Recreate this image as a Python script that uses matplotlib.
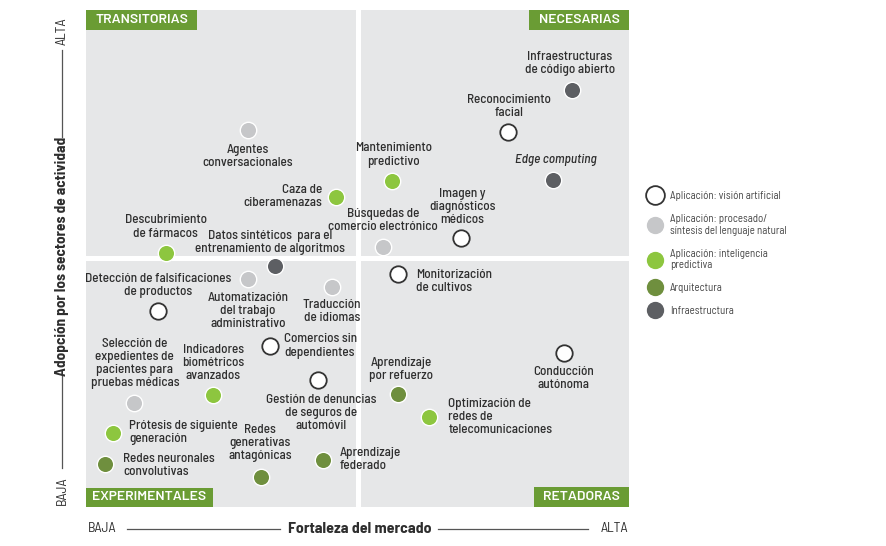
import matplotlib
matplotlib.use("Agg")
import matplotlib.pyplot as plt
from matplotlib import font_manager as fm
from matplotlib.patches import Rectangle
from matplotlib.lines import Line2D

# ---------------- data ----------------
names = [
    "Agentes\nconversacionales",
    "Caza de\nciberamenazas",
    "Descubrimiento\nde fármacos",
    "Datos sintéticos  para el\nentrenamiento de algoritmos",
    "Mantenimiento\npredictivo",
    "Infraestructuras\nde código abierto",
    "Reconocimiento\nfacial",
    "Edge computing",
    "Imagen y\ndiagnósticos\nmédicos",
    "Búsquedas de\ncomercio electrónico",
    "Detección de falsificaciones\nde productos",
    "Automatización\ndel trabajo\nadministrativo",
    "Traducción\nde idiomas",
    "Comercios sin\ndependientes",
    "Selección de\nexpedientes de\npacientes para\npruebas médicas",
    "Indicadores\nbiométricos\navanzados",
    "Gestión de denuncias\nde seguros de\nautomóvil",
    "Prótesis de siguiente\ngeneración",
    "Redes neuronales\nconvolutivas",
    "Redes\ngenerativas\nantagónicas",
    "Aprendizaje\nfederado",
    "Monitorización\nde cultivos",
    "Aprendizaje\npor refuerzo",
    "Optimización de\nredes de\ntelecomunicaciones",
    "Conducción\nautónoma",
]
x_strength = [29.8, 46.0, 14.7, 34.8, 56.4, 89.5, 77.7, 86.0, 69.1, 54.7,
              13.3, 29.8, 45.3, 33.9, 8.8, 23.4, 42.7, 5.0, 3.5, 32.2,
              43.6, 57.5, 57.5, 63.2, 88.0]
y_adoption = [75.9, 62.4, 51.1, 48.5, 65.6, 83.9, 75.5, 65.8, 54.1, 52.3,
              39.4, 45.9, 44.3, 32.4, 20.9, 22.5, 25.6, 14.9, 8.7, 6.0,
              9.5, 46.9, 22.7, 18.1, 31.0]
category = [1, 2, 2, 4, 2, 4, 0, 4, 0, 1,
            0, 1, 1, 0, 1, 2, 0, 2, 3, 3,
            3, 0, 3, 2, 0]

category_labels = [
    "Aplicación: visión artificial",
    "Aplicación: procesado/\nsíntesis del lenguaje natural",
    "Aplicación: inteligencia\npredictiva",
    "Arquitectura",
    "Infraestructura",
]
quadrant_labels = ["TRANSITORIAS", "NECESARIAS", "EXPERIMENTALES", "RETADORAS"]
x_axis_title = "Fortaleza del mercado"
y_axis_title = "Adopción por los sectores de actividad"
low_label, high_label = "BAJA", "ALTA"

# ---------------- fonts ----------------
_avail = {f.name for f in fm.fontManager.ttflist}


def pick(cands):
    fams = [c for c in cands if c in _avail]
    return fams + ["DejaVu Sans"]


COND = pick(["Barlow Semi Condensed", "Asap Condensed", "Archivo Narrow",
             "Liberation Sans Narrow", "Liberation Sans"])
HEAD = pick(["Barlow Semi Condensed", "Asap Condensed", "Open Sans"])
BOXF = pick(["Barlow", "Barlow Semi Condensed", "Open Sans"])
COND_SCALE = 1.0 if COND[0] not in ("DejaVu Sans", "Liberation Sans") else 0.88

# ---------------- style ----------------
cat_face = ["white", "#c6c7c9", "#8dc63f", "#6f8f3e", "#5d5f63"]
cat_edge = ["#333333", "white", "white", "white", "white"]
cat_lw = [1.3, 1.0, 1.0, 1.0, 1.0]
QBG = "#e6e7e8"
BOXG = "#6a9c34"
TXT = "#2e2e2e"

# label layout: (dx px, dy px, ha)
layout = [
    (0, -27, "center"), (-14, 0, "right"), (0, 26, "center"), (-5, 23.5, "center"),
    (1, 26, "center"), (-2, 26.5, "center"), (1, 25.5, "center"), (3, 20, "center"),
    (1, 31, "center"), (0, 26.5, "center"), (0, 26, "center"), (0, -32, "center"),
    (0, -25, "center"), (14, 0, "left"), (1, 40, "center"), (0, 32, "center"),
    (3, -33, "center"), (16, 0, "left"), (18, -1.5, "left"), (-1, 34.5, "center"),
    (17, 0, "left"), (18, -8, "left"), (3, 25, "center"), (19, 0, "left"),
    (0, -25.5, "center"),
]

W, H = 886, 546
fig = plt.figure(figsize=(W / 100, H / 100), dpi=100)
AX_L, AX_R, AX_T, AX_B = 86, 629, 10, 507
ax = fig.add_axes([AX_L / W, (H - AX_B) / H, (AX_R - AX_L) / W, (AX_B - AX_T) / H])
ax.set_xlim(0, 100)
ax.set_ylim(0, 100)
ax.axis("off")

# quadrants
for (x0, y0, x1, y1) in [(0, 50.5, 49.7, 100), (50.6, 50.5, 100, 100),
                         (0, 0, 49.7, 49.5), (50.6, 0, 100, 49.5)]:
    ax.add_patch(Rectangle((x0, y0), x1 - x0, y1 - y0, facecolor=QBG,
                           edgecolor="none", zorder=0))

# points
for c in range(5):
    xs = [x for x, k in zip(x_strength, category) if k == c]
    ys = [y for y, k in zip(y_adoption, category) if k == c]
    ax.scatter(xs, ys, s=140, facecolor=cat_face[c], edgecolor=cat_edge[c],
               linewidth=cat_lw[c], zorder=3)

# labels
for i, name in enumerate(names):
    dx, dy, ha = layout[i]
    style = "italic" if name == "Edge computing" else "normal"
    ax.annotate(name, (x_strength[i], y_adoption[i]), xytext=(dx, dy),
                textcoords="offset pixels", ha=ha, va="center", multialignment=ha,
                fontsize=9.5 * COND_SCALE, family=COND, fontweight=500, color=TXT,
                linespacing=1.12, style=style, zorder=4)

# quadrant title boxes (box size in pixels)
qboxes = [(0, 1, 111, 20), (1, 1, 100, 20), (0, 0, 127, 19), (1, 0, 95, 20)]
axw, axh = AX_R - AX_L, AX_B - AX_T
for lab, (qx, qy, bw, bh) in zip(quadrant_labels, qboxes):
    fw, fh = bw / axw, bh / axh
    x0 = 0 if qx == 0 else 1 - fw
    y0 = 1 - fh if qy == 1 else 0
    ax.add_patch(Rectangle((x0, y0), fw, fh, transform=ax.transAxes,
                           facecolor=BOXG, edgecolor="none", zorder=5))
    ax.text(x0 + fw / 2, y0 + fh / 2, lab, transform=ax.transAxes, ha="center",
            va="center", color="white", fontsize=10, fontweight=600,
            family=BOXF, zorder=6)


# axis titles (figure coords in pixels)
def fx(px):
    return px / W


def fy(py):
    return 1 - py / H


lc = "#555555"
# x axis
fig.text(fx(88), fy(529), low_label, ha="left", va="center", fontsize=10,
         family=COND, color=TXT)
fig.text(fx(628), fy(529), high_label, ha="right", va="center", fontsize=10,
         family=COND, color=TXT)
fig.text(fx(360), fy(529), x_axis_title, ha="center", va="center",
         fontsize=11.5, fontweight="bold", family=HEAD, color=TXT)
fig.add_artist(Line2D([fx(127), fx(280)], [fy(529), fy(529)], color=lc, lw=0.9))
fig.add_artist(Line2D([fx(438), fx(588)], [fy(529), fy(529)], color=lc, lw=0.9))
# y axis
fig.text(fx(62), fy(31), high_label, ha="center", va="center", rotation=90,
         fontsize=10, family=COND, color=TXT)
fig.text(fx(62), fy(491), low_label, ha="center", va="center", rotation=90,
         fontsize=10, family=COND, color=TXT)
fig.text(fx(62), fy(256), y_axis_title, ha="center",
         va="center", rotation=90, fontsize=11, fontweight="bold",
         family=HEAD, color=TXT)
fig.add_artist(Line2D([fx(62), fx(62)], [fy(50), fy(137)], color=lc, lw=0.9))
fig.add_artist(Line2D([fx(62), fx(62)], [fy(375), fy(468)], color=lc, lw=0.9))

# legend
handles = [Line2D([], [], marker="o", linestyle="none", markersize=13.5,
                  markerfacecolor=cat_face[c], markeredgecolor=cat_edge[c],
                  markeredgewidth=cat_lw[c]) for c in range(5)]
leg = fig.legend(handles, category_labels, loc="upper left",
                 bbox_to_anchor=(fx(648), fy(191)), frameon=False,
                 prop=dict(family=COND, size=7.8 * COND_SCALE), labelcolor="#444444",
                 handletextpad=0.75, labelspacing=1.2, borderaxespad=0,
                 handlelength=1.3, borderpad=0)

fig.savefig("out.png", dpi=100)
